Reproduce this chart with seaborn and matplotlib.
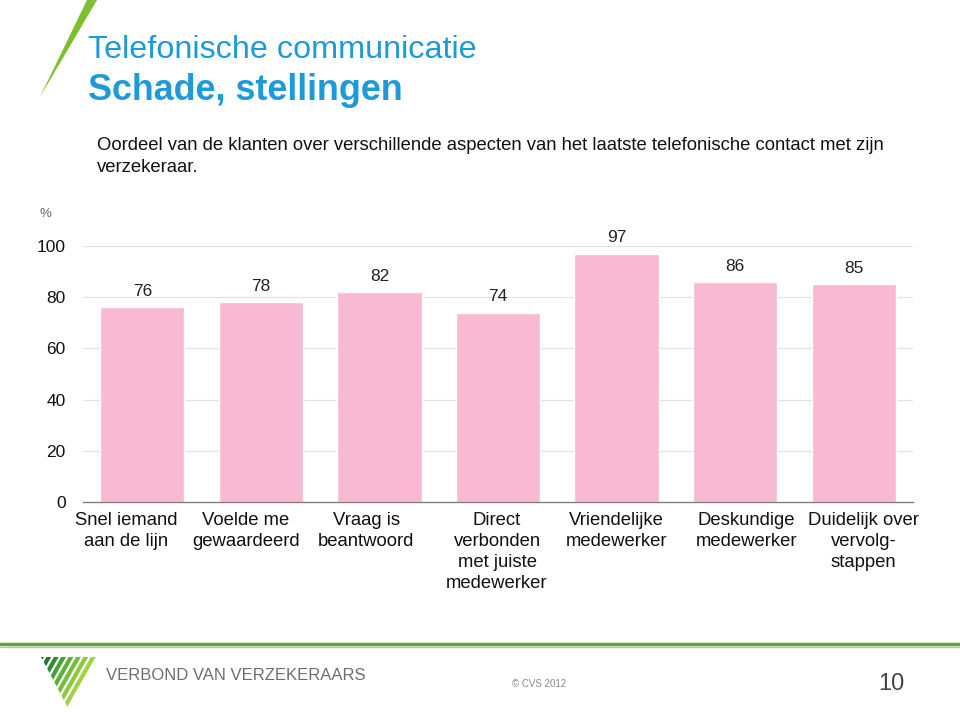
import matplotlib
matplotlib.use("Agg")
import matplotlib.pyplot as plt
import seaborn as sns
import pandas as pd
from matplotlib.patches import Polygon
from matplotlib.lines import Line2D
from matplotlib.transforms import ScaledTranslation
from matplotlib import font_manager

categories = [
    "Snel iemand\naan de lijn",
    "Voelde me\ngewaardeerd",
    "Vraag is\nbeantwoord",
    "Direct\nverbonden\nmet juiste\nmedewerker",
    "Vriendelijke\nmedewerker",
    "Deskundige\nmedewerker",
    "Duidelijk over\nvervolg-\nstappen",
]
values = [76, 78, 82, 74, 97, 86, 85]
yticks = [0, 20, 40, 60, 80, 100]

sns.set_theme(style="white")
plt.rcParams["font.family"] = ["Liberation Sans", "DejaVu Sans"]

df = pd.DataFrame({"cat": categories, "val": values})

fig = plt.figure(figsize=(9.6, 7.12), dpi=100)
ax = fig.add_axes([83 / 960, 1 - 502 / 712, 830 / 960, 256 / 712])

sns.barplot(data=df, x="cat", y="val", color="#FAB9D3", saturation=1,
            width=0.71, ax=ax)
for c in ax.containers:
    ax.bar_label(c, labels=[str(v) for v in values], padding=6,
                 fontsize=12.5, color="#222222")

ax.set_ylim(0, 100)
ax.set_xlim(-0.5, len(categories) - 0.5)
ax.set_yticks(yticks)
ax.set_yticklabels([str(t) for t in yticks], fontsize=12.5, color="#111111")
ax.tick_params(axis="y", length=0, pad=12.5)
ax.tick_params(axis="x", length=0, pad=7)
ax.set_xticklabels(categories, fontsize=13.3, color="#111111", linespacing=1.32)
# slide layout shifts some category labels sideways (pixels)
label_shift_px = [-16, -15, -13, -1, 0, 11, 10]
for lab, dxp in zip(ax.get_xticklabels(), label_shift_px):
    lab.set_transform(lab.get_transform() +
                      ScaledTranslation(dxp / 100, 0, fig.dpi_scale_trans))
ax.set_xlabel("")
ax.set_ylabel("")
for t in yticks[1:]:
    ax.axhline(t, color="#E3E3E3", lw=0.9, zorder=0)
for s in ["top", "right", "left"]:
    ax.spines[s].set_visible(False)
ax.spines["bottom"].set_color("#808080")
ax.spines["bottom"].set_linewidth(1.0)

# "%" label
fig.text(40 / 960, 1 - 214 / 712, "%", fontsize=9.5, color="#666666",
         va="center", ha="left")

# titles
blue = "#1F9AD6"
fig.text(88 / 960, 1 - 50 / 712, "Telefonische communicatie", fontsize=23.3,
         color=blue, va="center", ha="left")
fig.text(88 / 960, 1 - 91 / 712, "Schade, stellingen", fontsize=25.8,
         color=blue, va="center", ha="left", fontweight="bold")
fig.text(97 / 960, 1 - 145 / 712,
         "Oordeel van de klanten over verschillende aspecten van het laatste telefonische contact met zijn",
         fontsize=13.3, color="#111111", va="center", ha="left")
fig.text(97 / 960, 1 - 167 / 712, "verzekeraar.",
         fontsize=13.3, color="#111111", va="center", ha="left")

# green diagonal swoosh at top-left
fig.add_artist(Polygon([(40 / 960, 1 - 97 / 712), (87 / 960, 1 - 0 / 712),
                        (97 / 960, 1 - 0 / 712)],
                       closed=True, transform=fig.transFigure,
                       facecolor="#7DBF2E", edgecolor="none"))

# footer line
fig.add_artist(Line2D([0, 1], [1 - 644 / 712, 1 - 644 / 712],
                      transform=fig.transFigure, color="#5AA83A", lw=2.5))
fig.add_artist(Line2D([0, 1], [1 - 647 / 712, 1 - 647 / 712],
                      transform=fig.transFigure, color="#A8D585", lw=1))


def fpt(px, py):
    return (px / 960, 1 - py / 712)


# logo: striped inverted triangle
tri = Polygon([fpt(41, 657), fpt(98, 657), fpt(68, 708)], closed=True,
              transform=fig.transFigure, facecolor="none", edgecolor="none")
fig.add_artist(tri)
greens = ["#17652A", "#237A2E", "#2F8C33", "#45A036", "#5CAF39", "#74BD3C",
          "#8CC93F", "#A2D344"]
dx, dy = -29, 51
for i, g in enumerate(greens):
    xl = 43 + i * 7.4
    xr = xl + 4.8
    pts = [fpt(xl, 650), fpt(xr, 650), fpt(xr + dx * 1.2, 650 + dy * 1.2),
           fpt(xl + dx * 1.2, 650 + dy * 1.2)]
    p = Polygon(pts, closed=True, transform=fig.transFigure,
                facecolor=g, edgecolor="none")
    fig.add_artist(p)
    p.set_clip_path(tri)

names = {f.name for f in font_manager.fontManager.ttflist}
if "Liberation Sans Narrow" in names:
    logo_fam = ["Liberation Sans Narrow", "DejaVu Sans"]
    logo_size = 16
else:
    logo_fam = ["Liberation Sans", "DejaVu Sans"]
    logo_size = 12
fig.text(106 / 960, 1 - 676 / 712, "VERBOND VAN VERZEKERAARS",
         fontsize=logo_size, color="#6E6E6E", va="center", ha="left",
         family=logo_fam)
fig.text(512 / 960, 1 - 684 / 712, "© CVS 2012", fontsize=7,
         color="#888888", va="center", ha="left")
fig.text(904 / 960, 1 - 684 / 712, "10", fontsize=17,
         color="#444444", va="center", ha="right")

fig.savefig("out.png", dpi=100)
